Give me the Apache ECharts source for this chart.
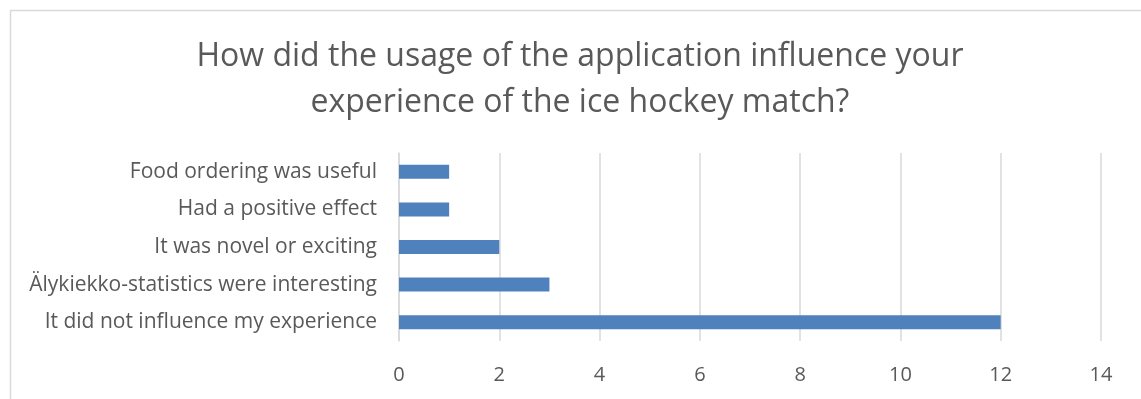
<!DOCTYPE html>
<html>
<head>
<meta charset="utf-8">
<script src="https://cdn.jsdelivr.net/npm/echarts@6/dist/echarts.min.js"></script>
<style>
  html, body { margin: 0; padding: 0; background: #fff; }
  #chart { width: 1141px; height: 399px; }
</style>
</head>
<body>
<div id="chart"></div>
<script>
// Survey answers, listed top to bottom
const categories = [
  'Food ordering was useful',
  'Had a positive effect',
  'It was novel or exciting',
  'Älykiekko-statistics were interesting',
  'It did not influence my experience'
];
const counts = [1, 1, 2, 3, 12];
const xTicks = [0, 2, 4, 6, 8, 10, 12, 14];

const FONT = '"Open Sans", "Noto Sans", sans-serif';
const TEXT = '#595959';
const GRID = '#D9D9D9';

const chart = echarts.init(document.getElementById('chart'), null, { renderer: 'canvas' });
chart.setOption({
  animation: false,
  backgroundColor: '#fff',
  graphic: [{
    type: 'rect',
    left: 8, top: 8,
    shape: { width: 1200, height: 500 },
    style: { fill: 'none', stroke: '#D9D9D9', lineWidth: 1.5 },
    silent: true
  }],
  title: {
    text: 'How did the usage of the application influence your\nexperience of the ice hockey match?',
    left: 575,
    top: 29,
    textAlign: 'center',
    textStyle: {
      fontFamily: FONT, fontSize: 32, fontWeight: 'normal',
      color: TEXT, lineHeight: 46
    }
  },
  grid: { left: 399, right: 40, top: 153, bottom: 58, containLabel: false },
  xAxis: {
    type: 'value',
    min: xTicks[0],
    max: xTicks[xTicks.length - 1],
    interval: 2,
    axisLine: { show: false },
    axisTick: { show: false },
    axisLabel: {
      fontFamily: FONT, fontSize: 20, color: TEXT, margin: 24,
      formatter: v => xTicks.includes(v) ? String(v) : ''
    },
    splitLine: { show: true, lineStyle: { color: GRID, width: 1.5 } }
  },
  yAxis: {
    type: 'category',
    data: categories,
    inverse: true,
    axisLine: { show: true, lineStyle: { color: GRID, width: 1.5 } },
    axisTick: { show: false },
    axisLabel: { fontFamily: FONT, fontSize: 21, color: TEXT, margin: 22 }
  },
  series: [{
    type: 'bar',
    data: counts,
    barWidth: 14,
    itemStyle: { color: '#4F81BD' }
  }]
});
</script>
</body>
</html>
